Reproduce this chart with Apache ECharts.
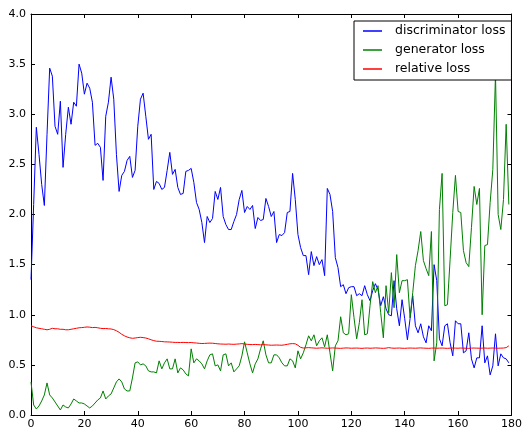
<!DOCTYPE html>
<html>
<head>
<meta charset="utf-8">
<script src="https://cdn.jsdelivr.net/npm/echarts@6/dist/echarts.min.js"></script>
<style>
  html, body { margin: 0; padding: 0; background: #fff; }
  #chart { width: 525px; height: 430px; }
</style>
</head>
<body>
<div id="chart"></div>
<script>
var seriesNames = ['discriminator loss', 'generator loss', 'relative loss'];
var xTicks = [0, 20, 40, 60, 80, 100, 120, 140, 160, 180];
var yTicks = [0.0, 0.5, 1.0, 1.5, 2.0, 2.5, 3.0, 3.5, 4.0];

var discLoss = [
    1.35, 2.1, 2.87, 2.6, 2.3, 2.09, 2.8, 3.46, 3.38, 2.88,
    2.8, 3.13, 2.47, 2.8, 3.07, 2.9, 3.12, 3.08, 3.5, 3.41,
    3.2, 3.31, 3.26, 3.12, 2.69, 2.71, 2.67, 2.34, 2.98, 3.12,
    3.37, 3.15, 2.6, 2.23, 2.39, 2.43, 2.54, 2.58, 2.37, 2.44,
    2.88, 3.15, 3.21, 2.98, 2.75, 2.8, 2.25, 2.33, 2.31, 2.25,
    2.27, 2.44, 2.62, 2.4, 2.45, 2.27, 2.2, 2.21, 2.43, 2.44,
    2.46, 2.32, 2.12, 2.05, 1.92, 1.72, 1.98, 1.92, 1.96, 2.23,
    2.15, 2.27, 1.98, 1.9, 1.85, 1.85, 1.93, 2.0, 2.15, 2.24,
    2.02, 2.08, 2.05, 2.09, 1.86, 1.97, 1.94, 1.95, 2.16, 2.08,
    1.98, 2.03, 1.72, 1.8, 1.79, 1.82, 2.02, 2.03, 2.41, 2.15,
    1.8, 1.67, 1.59, 1.59, 1.4, 1.63, 1.49, 1.58, 1.5, 1.55,
    1.39, 2.26, 2.2, 2.03, 1.57, 1.47, 1.28, 1.3, 1.21, 1.27,
    1.28, 1.28, 1.19, 1.21, 1.19, 1.29, 1.2, 1.14, 1.24, 1.31,
    1.25, 1.09, 1.18, 1.06, 1.0, 0.99, 1.34, 1.06, 0.89, 1.15,
    0.96, 0.75, 0.96, 1.19, 0.89, 0.82, 0.91, 0.78, 0.72, 0.89,
    0.84, 1.5, 1.34, 0.76, 0.69, 0.89, 0.91, 0.72, 0.59, 0.94,
    0.91, 0.91, 0.62, 0.64, 0.82, 0.56, 0.47, 0.57, 0.57, 0.89,
    0.52, 0.59, 0.4, 0.49, 0.81, 0.49, 0.61, 0.57, 0.56, 0.52
];

var genLoss = [
    0.33, 0.1, 0.06, 0.09, 0.14, 0.2, 0.32, 0.2, 0.17, 0.13,
    0.09, 0.05, 0.1, 0.08, 0.07, 0.11, 0.16, 0.14, 0.12, 0.12,
    0.11, 0.09, 0.07, 0.09, 0.12, 0.15, 0.17, 0.24, 0.16, 0.19,
    0.21, 0.27, 0.33, 0.36, 0.33, 0.26, 0.24, 0.24, 0.37, 0.52,
    0.53, 0.5, 0.51, 0.49, 0.44, 0.43, 0.43, 0.42, 0.54, 0.46,
    0.52, 0.56, 0.46, 0.46, 0.56, 0.42, 0.47, 0.45, 0.41, 0.39,
    0.66, 0.52, 0.56, 0.54, 0.51, 0.46, 0.54, 0.6, 0.61, 0.49,
    0.5, 0.44, 0.6, 0.61, 0.49, 0.52, 0.43, 0.46, 0.49, 0.59,
    0.73, 0.62, 0.51, 0.42, 0.51, 0.56, 0.66, 0.74, 0.6, 0.52,
    0.52, 0.6, 0.6, 0.57, 0.52, 0.49, 0.49, 0.56, 0.54, 0.47,
    0.64, 0.56, 0.62, 0.7, 0.79, 0.74, 0.8, 0.69, 0.74, 0.77,
    0.68, 0.8, 0.62, 0.44, 0.69, 0.74, 0.98, 0.82, 0.8, 0.81,
    1.2, 0.97, 0.76, 0.92, 1.15, 0.8, 0.81, 1.09, 1.33, 1.22,
    1.29, 1.02, 0.77, 1.29, 1.02, 1.42, 1.07, 1.6, 1.22, 1.34,
    1.34, 1.35, 0.97, 1.22, 1.49, 1.64, 1.83, 1.54, 1.46, 1.39,
    1.83, 0.54, 0.72, 2.05, 2.41, 1.09, 1.1, 1.55, 2.02, 2.39,
    2.03, 2.02, 1.64, 1.52, 1.48, 1.87, 2.28, 2.1, 2.26, 1.0,
    1.69, 1.7, 2.12, 2.45, 3.4, 2.0, 1.85, 2.15, 2.9, 2.1
];

var relLoss = [
    0.89, 0.88, 0.87, 0.865, 0.86, 0.855, 0.85, 0.855, 0.865, 0.86,
    0.86, 0.855, 0.855, 0.85, 0.85, 0.855, 0.86, 0.865, 0.87, 0.872,
    0.875, 0.878, 0.876, 0.872, 0.874, 0.87, 0.865, 0.862, 0.863, 0.86,
    0.858, 0.852, 0.84, 0.825, 0.805, 0.79, 0.778, 0.77, 0.765, 0.768,
    0.772, 0.775, 0.772, 0.768, 0.76, 0.75, 0.742, 0.736, 0.735, 0.733,
    0.73, 0.729, 0.728, 0.726, 0.724, 0.724, 0.723, 0.724, 0.723, 0.722,
    0.723, 0.72, 0.718, 0.715, 0.713, 0.714, 0.716, 0.717, 0.716, 0.713,
    0.71, 0.708, 0.707, 0.706, 0.708, 0.706, 0.705, 0.707, 0.709, 0.712,
    0.708, 0.705, 0.703, 0.702, 0.704, 0.702, 0.7, 0.702, 0.7, 0.698,
    0.696, 0.697, 0.698, 0.697, 0.696, 0.7, 0.705, 0.71, 0.712, 0.71,
    0.695, 0.675, 0.668, 0.67, 0.672, 0.67, 0.668, 0.666, 0.668, 0.67,
    0.668, 0.666, 0.667, 0.669, 0.668, 0.666, 0.665, 0.667, 0.669, 0.668,
    0.666, 0.667, 0.668, 0.666, 0.665, 0.667, 0.668, 0.666, 0.667, 0.669,
    0.668, 0.666, 0.665, 0.667, 0.672, 0.668, 0.666, 0.667, 0.668, 0.666,
    0.665, 0.667, 0.668, 0.667, 0.666, 0.668, 0.669, 0.667, 0.666, 0.665,
    0.667, 0.668, 0.666, 0.667, 0.668, 0.666, 0.665, 0.667, 0.668, 0.667,
    0.666, 0.668, 0.667, 0.666, 0.665, 0.667, 0.668, 0.667, 0.666, 0.667,
    0.668, 0.666, 0.667, 0.668, 0.667, 0.666, 0.667, 0.668, 0.672, 0.69
];

function toPoints(arr) {
    return arr.map(function (v, i) { return [i, v]; });
}

window.onload = function () {
    var chart = echarts.init(document.getElementById('chart'), null, { renderer: 'canvas' });

    var font = 'DejaVu Sans';
    var xMin = xTicks[0], xMax = xTicks[xTicks.length - 1];
    var yMin = yTicks[0], yMax = yTicks[yTicks.length - 1];

    function xAxisOf(pos, showLabel) {
        return {
            type: 'value', position: pos, min: xMin, max: xMax, interval: 20,
            axisLine: { show: true, onZero: false, lineStyle: { color: '#000', width: 1 } },
            axisTick: { show: true, inside: true, length: 4, lineStyle: { color: '#000' } },
            axisLabel: { show: showLabel, color: '#000', fontFamily: font, fontSize: 11, margin: 4 },
            splitLine: { show: false }
        };
    }
    function yAxisOf(pos, showLabel) {
        return {
            type: 'value', position: pos, min: yMin, max: yMax, interval: 0.5,
            axisLine: { show: true, onZero: false, lineStyle: { color: '#000', width: 1 } },
            axisTick: { show: true, inside: true, length: 4, lineStyle: { color: '#000' } },
            axisLabel: {
                show: showLabel, color: '#000', fontFamily: font, fontSize: 11, margin: 5,
                formatter: function (v) { return v.toFixed(1); }
            },
            splitLine: { show: false }
        };
    }

    var colors = ['#0000ff', '#008000', '#ff0000'];
    var lists = [discLoss, genLoss, relLoss];

    var option = {
        animation: false,
        backgroundColor: '#fff',
        grid: { left: 31, right: 8, top: 14, bottom: 14 },
        legend: {
            orient: 'vertical',
            left: 354, top: 21,
            data: seriesNames,
            icon: 'rect',
            itemWidth: 19, itemHeight: 1.5,
            itemGap: 5,
            padding: [3, 6, 4, 9],
            backgroundColor: '#fff',
            borderColor: '#000', borderWidth: 1,
            textStyle: { color: '#000', fontFamily: font, fontSize: 12.5, lineHeight: 14, padding: [0, 0, 0, 8] }
        },
        xAxis: [xAxisOf('bottom', true), xAxisOf('top', false)],
        yAxis: [yAxisOf('left', true), yAxisOf('right', false)],
        series: lists.map(function (arr, k) {
            return {
                name: seriesNames[k],
                type: 'line',
                data: toPoints(arr),
                showSymbol: false,
                symbol: 'none',
                color: colors[k],
                lineStyle: { color: colors[k], width: 1 },
                xAxisIndex: 0, yAxisIndex: 0
            };
        })
    };

    chart.setOption(option);
};
</script>
</body>
</html>
